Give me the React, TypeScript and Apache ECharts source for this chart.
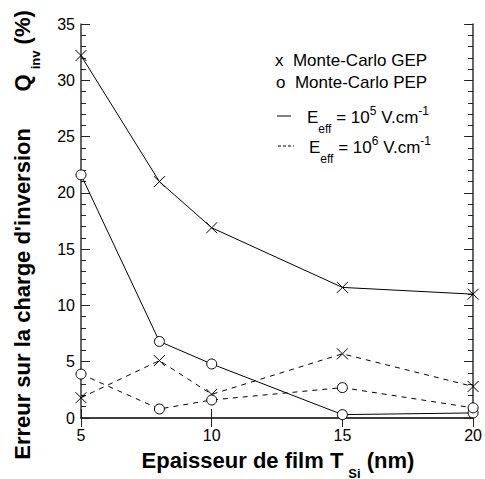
import React, { useEffect, useRef } from "react";
import * as echarts from "echarts";

const thickness = [5, 8, 10, 15, 20];
const gepE5 = [32.2, 21.0, 16.9, 11.6, 11.0];
const pepE5 = [21.6, 6.8, 4.8, 0.3, 0.45];
const gepE6 = [1.8, 5.1, 2.1, 5.7, 2.8];
const pepE6 = [3.9, 0.8, 1.6, 2.7, 0.9];

const xTicks = { min: 5, max: 20, interval: 5 };
const yTicks = { min: 0, max: 35, interval: 5 };

const FONT = "'Liberation Sans', Arial, sans-serif";
const CROSS = "path://M0,0L10,10M10,0L0,10";

function pairs(xs: number[], ys: number[]) {
  return xs.map((x, i) => [x, ys[i]]);
}

export default function App() {
  const ref = useRef<HTMLDivElement>(null);
  useEffect(() => {
    if (!ref.current) return;
    const chart = echarts.init(ref.current, undefined, { renderer: "svg" });
    const axisLine = { show: true, lineStyle: { color: "#333", width: 1.5 } };
    const tickStyle = { color: "#222", width: 1 };
    const baseY = {
      type: "value" as const,
      min: yTicks.min,
      max: yTicks.max,
      interval: yTicks.interval,
      axisLine,
      splitLine: { show: false },
      axisTick: { show: true, inside: true, length: 9, lineStyle: tickStyle },
      minorTick: { show: true, splitNumber: 5, length: 5, lineStyle: tickStyle },
    };
    const baseX = {
      type: "value" as const,
      min: xTicks.min,
      max: xTicks.max,
      interval: xTicks.interval,
      axisLine,
      splitLine: { show: false },
      axisTick: { show: true, inside: true, length: 9, lineStyle: tickStyle },
    };
    const lineSeries = (name: string, ys: number[], cross: boolean, dashed: boolean) => ({
      name,
      type: "line" as const,
      data: pairs(thickness, ys),
      symbol: cross ? CROSS : "circle",
      symbolSize: cross ? 11 : 10,
      showSymbol: true,
      lineStyle: {
        color: "#000",
        width: 1,
        type: dashed ? [5, 5] : "solid",
      },
      itemStyle: {
        color: cross ? "#000" : "#fff",
        borderColor: "#000",
        borderWidth: 1,
      },
      z: cross ? 2 : 3,
    });

    const legendRich = {
      m: { fontFamily: FONT, fontSize: 17, lineHeight: 22, verticalAlign: "middle", color: "#000" },
      sub: {
        fontFamily: FONT,
        fontSize: 12,
        lineHeight: 12,
        padding: [24, 0, 0, 0],
        verticalAlign: "middle",
        color: "#000",
      },
      sup: {
        fontFamily: FONT,
        fontSize: 12,
        lineHeight: 12,
        padding: [0, 0, 12, 0],
        verticalAlign: "middle",
        color: "#000",
      },
    };

    const plainText = (x: number, y: number, text: string) => ({
      type: "text",
      x,
      y,
      style: {
        text: "{m|" + text + "}",
        rich: legendRich,
        align: "left",
        verticalAlign: "middle",
      },
    });

    const eText = (x: number, y: number, exp: string) => ({
      type: "text",
      x,
      y,
      style: {
        text: "{m|E}{sub|eff}{m| = 10}{sup|" + exp + "}{m| V.cm}{sup|-1}",
        rich: legendRich,
        align: "left",
        verticalAlign: "middle",
      },
    });

    const rich = {
      a: {
        fontFamily: FONT,
        fontSize: 22,
        fontWeight: "bold",
        lineHeight: 28,
        verticalAlign: "middle",
        color: "#000",
      },
      s: {
        fontFamily: FONT,
        fontSize: 13,
        fontWeight: "bold",
        lineHeight: 14,
        padding: [26, 0, 0, 5],
        verticalAlign: "middle",
        color: "#000",
      },
    };

    chart.setOption({
      animation: false,
      backgroundColor: "#fff",
      grid: { left: 81, top: 24, right: 11, bottom: 61, containLabel: false },
      xAxis: [
        {
          ...baseX,
          position: "bottom",
          axisLabel: { show: true, margin: 9, fontFamily: FONT, fontSize: 16, color: "#000" },
        },
        { ...baseX, position: "top", axisLabel: { show: false } },
      ],
      yAxis: [
        {
          ...baseY,
          position: "left",
          axisLabel: { show: true, margin: 6, fontFamily: FONT, fontSize: 16, color: "#000" },
        },
        { ...baseY, position: "right", axisLabel: { show: false } },
      ],
      series: [
        lineSeries("GEP 1e5", gepE5, true, false),
        lineSeries("PEP 1e5", pepE5, false, false),
        lineSeries("GEP 1e6", gepE6, true, true),
        lineSeries("PEP 1e6", pepE6, false, true),
      ],
      graphic: [
        plainText(275, 60, "x  Monte-Carlo GEP"),
        plainText(276, 82, "o  Monte-Carlo PEP"),
        {
          type: "line",
          shape: { x1: 277, y1: 116, x2: 291, y2: 116 },
          style: { stroke: "#000", lineWidth: 1 },
        },
        eText(307, 117, "5"),
        {
          type: "line",
          shape: { x1: 278, y1: 146, x2: 294, y2: 146 },
          style: { stroke: "#000", lineWidth: 1, lineDash: [3, 2] },
        },
        eText(309, 147, "6"),
        {
          type: "text",
          x: 278,
          y: 460,
          style: {
            text: "{a|Epaisseur de film T}{s|Si}{a| (nm)}",
            rich,
            align: "center",
            verticalAlign: "middle",
          },
        },
        {
          type: "text",
          x: 22,
          y: 235,
          rotation: Math.PI / 2,
          style: {
            text: "{a|Erreur sur la charge d'inversion      Q}{s|inv}{a| (%)}",
            rich,
            align: "center",
            verticalAlign: "middle",
          },
        },
      ],
    });
    return () => chart.dispose();
  }, []);
  return <div ref={ref} style={{ position: "fixed", left: 0, top: 0, width: 485, height: 479 }} />;
}
